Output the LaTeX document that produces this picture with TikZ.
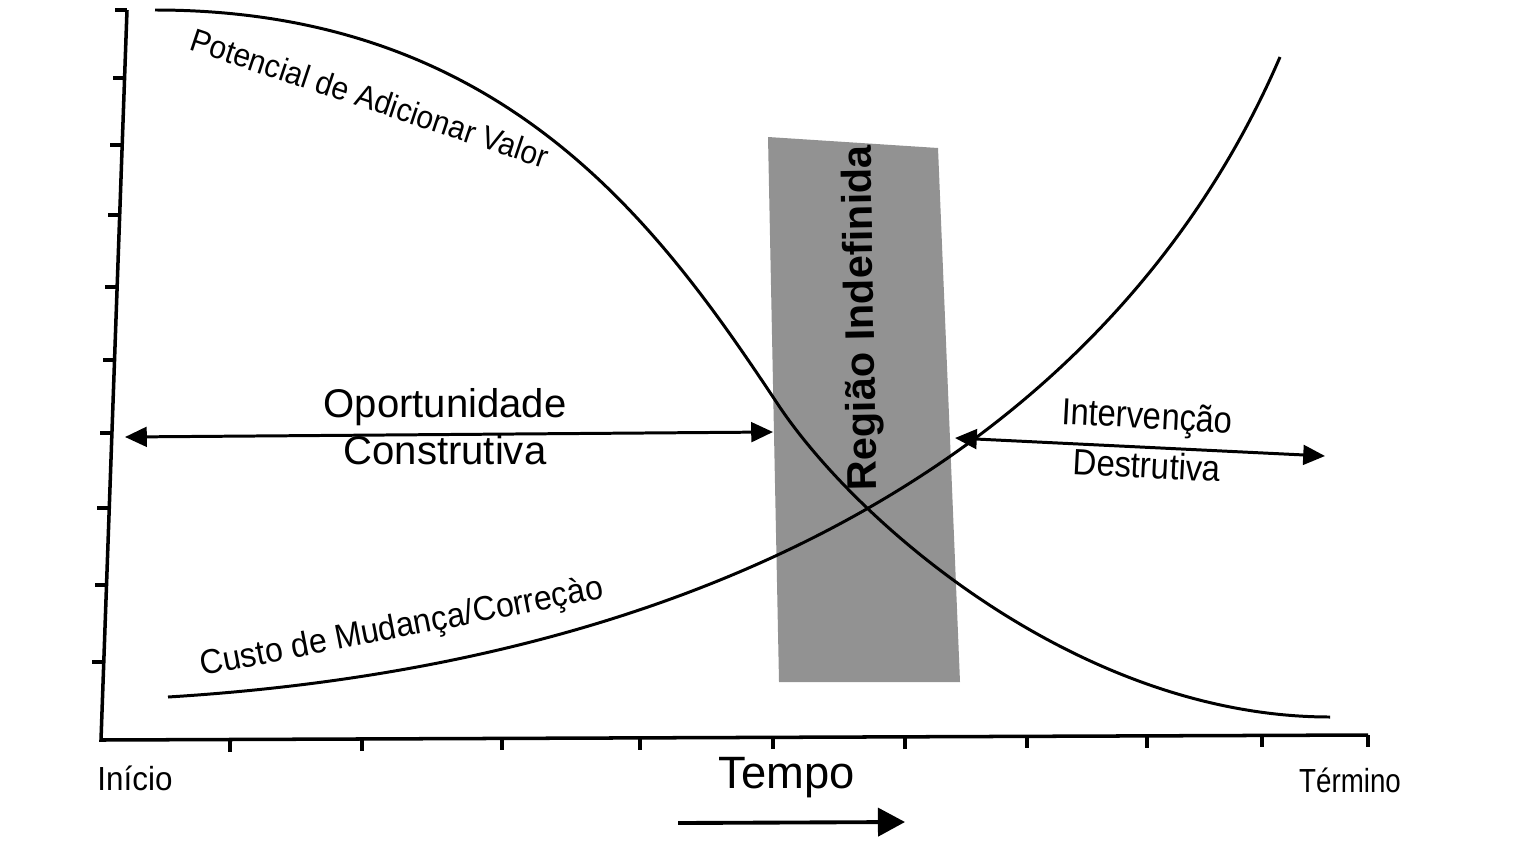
\documentclass[tikz,border=0pt]{standalone}
\usepackage{fontspec}
\setmainfont{Liberation Sans}
\usetikzlibrary{arrows.meta, positioning}
\definecolor{faixa}{RGB}{146,146,146}

\begin{document}
\begin{tikzpicture}[x=0.1mm, y=-0.1mm, line width=0.85pt,
  seta/.style={{Triangle[length=6.2pt,width=5.6pt]}-{Triangle[length=6.2pt,width=5.6pt]}},
  rotulo/.style={inner sep=0pt, font=\fontsize{#1}{13.3}\selectfont}]
\useasboundingbox (0,0) rectangle (1529,842);
% faixa cinza
\fill[faixa] (768,137) -- (938,148) -- (960,682) -- (779,682) -- cycle;
\node[inner sep=0pt, rotate=91, font=\fontsize{11.8}{14}\selectfont\bfseries] (regiao) at (863,318) {Região Indefinida};
% eixos
\draw[line width=1pt] (127,10) -- (101,740) -- (1368,735);
\foreach \y/\x in {10/127, 78/124.6, 145/122.2, 215/119.7, 287/117.1, 360/114.5, 433/111.9, 508/109.2, 585/106.5, 662/103.8}
  \draw[line width=1pt] (\x,\y) -- ++(-12,0);
\foreach \x/\y in {230/739.5, 362/739, 502/738.4, 640/737.9, 773/737.3, 905/736.8, 1027/736.3, 1147/735.9, 1262/735.4, 1368/735}
  \draw[line width=1pt] (\x,\y) -- ++(0,12);
% curvas
\draw (155,10) .. controls (505,10) and (660,227) .. (777,403)
  .. controls (856,523) and (1080,717) .. (1330,717);
\draw (168,697) .. controls (768,660) and (1130,405) .. (1280,57);
\node[rotulo=9.2, rotate=-18.5, xscale=0.93] (pot) at (370,98) {Potencial de Adicionar Valor};
\node[rotulo=9.8, rotate=11, xscale=0.93] (custo) at (402,628) {Custo de Mudança/Correçào};
% setas
\coordinate (opL) at (125,437);
\coordinate (opR) at (773,432);
\draw[seta] (opL) -- (opR);
\node[rotulo=11.4, align=center] (oport) at (445,427) {Oportunidade\\Construtiva};
\coordinate (inL) at (955,438);
\coordinate (inR) at (1325,456);
\draw[seta] (inL) -- (inR);
\node[rotulo=10.7, rotate=-3, xscale=0.87] (interv) at (1147,419) {Intervenção};
\node[rotulo=10.4, rotate=-3, xscale=0.9] (destr) at (1147,465) {Destrutiva};
% tempo
\node[rotulo=9.5, xscale=0.94] (inicio) at (135,778) {Início};
\node[rotulo=9.5, xscale=0.83] (termino) at (1350,780) {Término};
\node[rotulo=12.9] (tempo) at (787,778) {Tempo};
\coordinate (tA) at (678,823);
\coordinate (tB) at (905,822);
\draw[line width=1.1pt, -{Triangle[length=7.7pt,width=8pt]}] (tA) -- (tB);
\end{tikzpicture}
\end{document}
